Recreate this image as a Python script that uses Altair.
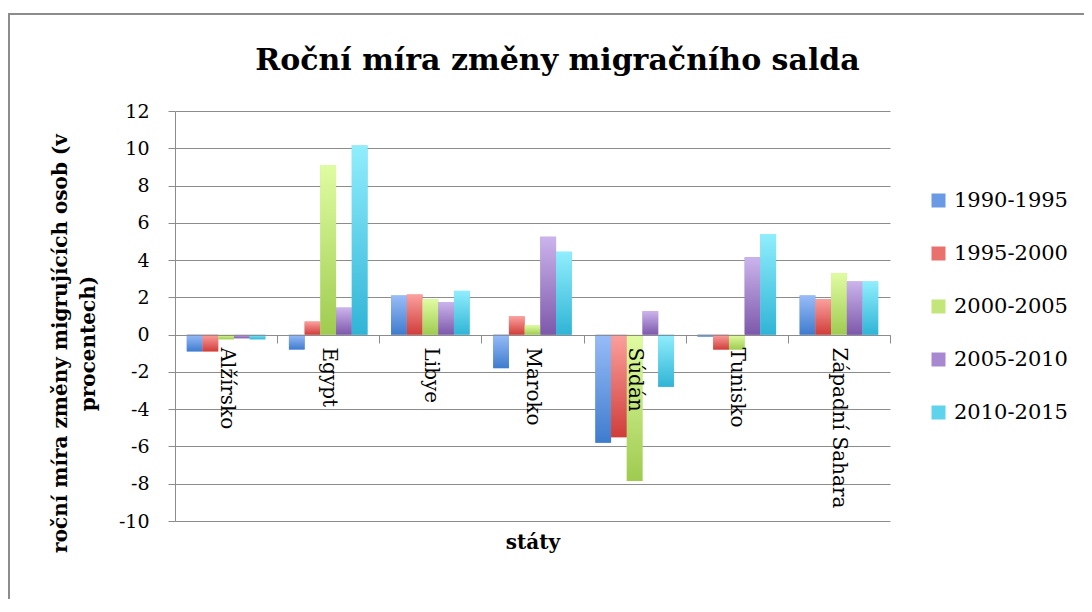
import altair as alt
import pandas as pd

countries = ["Alžírsko", "Egypt", "Libye", "Maroko", "Súdán", "Tunisko", "Západní Sahara"]
periods = ["1990-1995", "1995-2000", "2000-2005", "2005-2010", "2010-2015"]
v_1990_1995 = [-0.9, -0.8, 2.1, -1.8, -5.8, -0.1, 2.1]
v_1995_2000 = [-0.9, 0.7, 2.15, 0.98, -5.5, -0.8, 1.9]
v_2000_2005 = [-0.25, 9.1, 1.9, 0.5, -7.85, -0.8, 3.3]
v_2005_2010 = [-0.2, 1.45, 1.75, 5.25, 1.25, 4.15, 2.85]
v_2010_2015 = [-0.25, 10.15, 2.35, 4.45, -2.8, 5.4, 2.85]
y_ticks = [-10, -8, -6, -4, -2, 0, 2, 4, 6, 8, 10, 12]

series = [v_1990_1995, v_1995_2000, v_2000_2005, v_2005_2010, v_2010_2015]
rows = []
for p, vals in zip(periods, series):
    for c, v in zip(countries, vals):
        rows.append({"country": c, "period": p, "value": v})
df = pd.DataFrame(rows)

mid_colors = ["#6a9ae3", "#e8706d", "#c2e67a", "#a888d0", "#5fd2ec"]
grad_colors = [
    ("#98bcf8", "#3f7cce"),
    ("#fba09d", "#d03d3a"),
    ("#e0fca2", "#9fcb50"),
    ("#cbb4ec", "#7d58ab"),
    ("#90eefd", "#30b4d6"),
]

FONT = "DejaVu Serif"
GRAY = "#8c8c8c"

x_axis = alt.Axis(
    title="státy", titleFont=FONT, titleFontSize=20, titleFontWeight="bold",
    titleColor="black", titleBaseline="top", titleY=197,
    labelAngle=90, labelAlign="left", labelBaseline="middle",
    labelFont=FONT, labelFontSize=20, labelColor="black", labelPadding=4,
    labelLimit=400, labelOverlap=False,
    tickBand="extent", tickSize=8, tickColor=GRAY, domainColor=GRAY,
    offset=-186, zindex=1,
)
y_axis = alt.Axis(
    values=y_ticks, title=["roční míra změny migrujících osob (v", "procentech)"],
    titleFont=FONT, titleFontSize=20, titleFontWeight="bold", titleColor="black",
    titleAngle=-90, titleX=-125, titleY=232, titleBaseline="top", titleAlign="center",
    titleLineHeight=28,
    labelExpr="toString(datum.value)",
    labelFont=FONT, labelFontSize=19, labelColor="black", labelPadding=19,
    tickSize=7, tickColor=GRAY, domainColor=GRAY, gridColor=GRAY, gridWidth=1,
)

x_enc = alt.X("country:N", sort=countries, axis=x_axis,
              scale=alt.Scale(domain=countries, paddingInner=0, paddingOuter=0))
xo_enc = alt.XOffset("period:N", sort=periods,
                     scale=alt.Scale(domain=periods, paddingInner=0, paddingOuter=0.75))
y_enc = alt.Y("value:Q", axis=y_axis, scale=alt.Scale(domain=[-10, 12], nice=False))

base = alt.Chart(df).mark_bar().encode(
    x=x_enc, xOffset=xo_enc, y=y_enc,
    color=alt.Color("period:N", sort=periods,
                    scale=alt.Scale(domain=periods, range=mid_colors),
                    legend=alt.Legend(
                        title=None, orient="none", legendX=753, legendY=79,
                        symbolType="square", symbolSize=196, symbolStrokeWidth=0,
                        labelFont=FONT, labelFontSize=21, labelColor="black",
                        labelOffset=5, rowPadding=31,
                    )),
)

layers = [base]
for p, (top, bot) in zip(periods, grad_colors):
    g = alt.Gradient(
        gradient="linear",
        stops=[alt.GradientStop(color=top, offset=0), alt.GradientStop(color=bot, offset=1)],
        x1=0, x2=0, y1=0, y2=1,
    )
    layers.append(
        alt.Chart(df).transform_filter(alt.datum.period == p)
        .mark_bar(color=g)
        .encode(x=x_enc, xOffset=xo_enc, y=y_enc)
    )

frame = alt.Chart(pd.DataFrame({"a": [0]})).mark_rect(
    fill=None, stroke=GRAY, strokeWidth=2
).encode(x=alt.value(-166), x2=alt.value(1000), y=alt.value(-97), y2=alt.value(700))

chart = alt.layer(*layers, frame).properties(
    width=715, height=410,
    title=alt.TitleParams(
        "Roční míra změny migračního salda", font=FONT, fontSize=30,
        fontWeight="bold", color="black", anchor="middle", dx=25,
        baseline="alphabetic", offset=-87,
    ),
    autosize=alt.AutoSizeParams(type="none"),
    padding={"left": 167, "top": 103, "right": 194, "bottom": 78},
).configure_view(stroke=None)

chart.save("out.html", embed_options={"renderer": "svg", "actions": False})
